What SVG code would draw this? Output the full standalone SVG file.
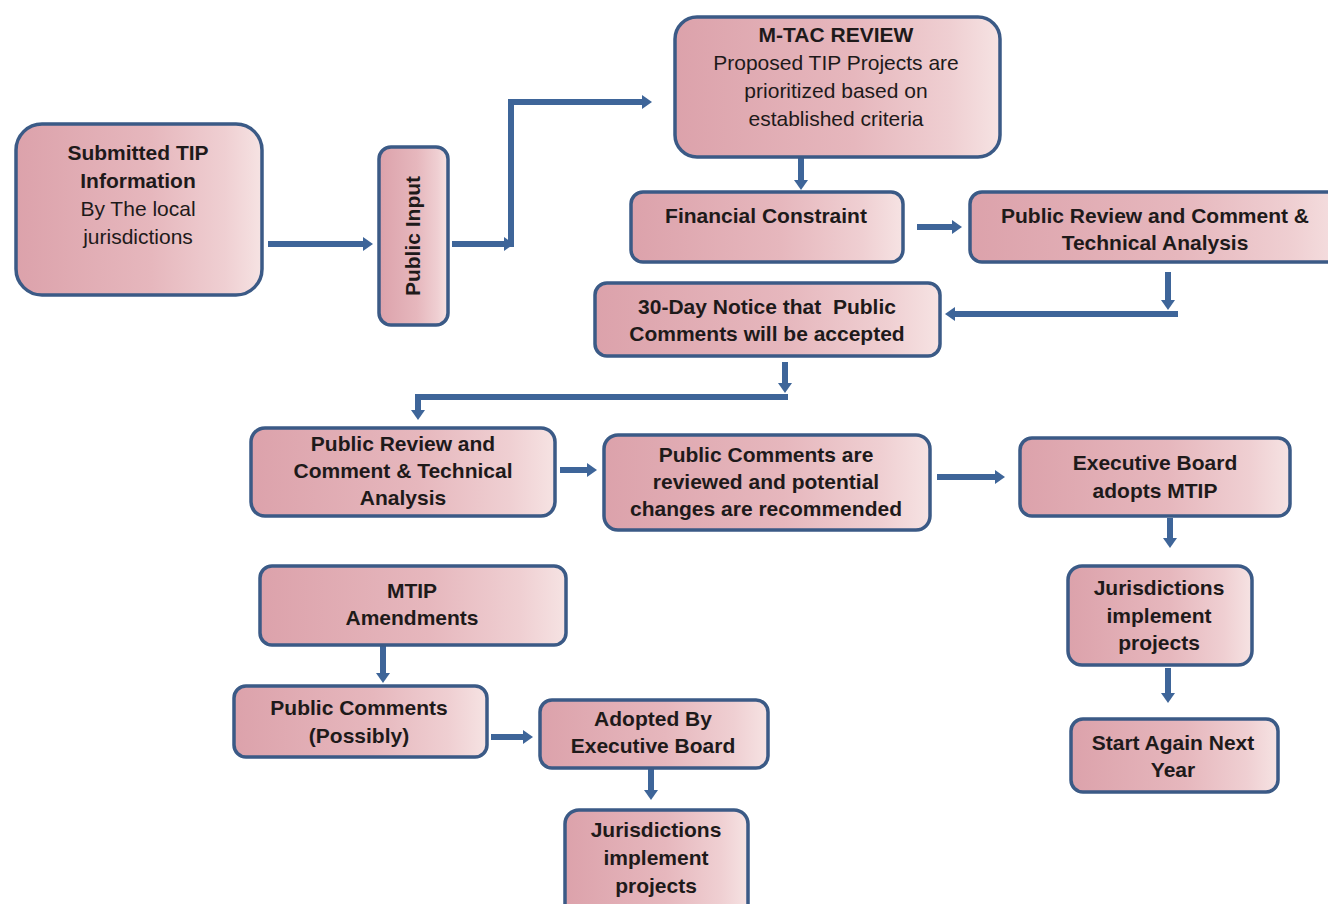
<svg xmlns="http://www.w3.org/2000/svg" width="1328" height="904" viewBox="0 0 1328 904">
<defs>
<linearGradient id="pink" x1="0" y1="0" x2="1" y2="0">
<stop offset="0" stop-color="#dca2ab"/>
<stop offset="0.55" stop-color="#e6b7bd"/>
<stop offset="0.85" stop-color="#efcfd2"/>
<stop offset="1" stop-color="#f6e3e3"/>
</linearGradient>
<marker id="ah" markerUnits="userSpaceOnUse" markerWidth="12" markerHeight="14" refX="2" refY="7" orient="auto">
<path d="M0,0 L10,7 L0,14 z" fill="#3e6599"/>
</marker>
<style>
.box{fill:url(#pink);stroke:#3b5a86;stroke-width:3.5}
.t{font-family:"Liberation Sans",Arial,sans-serif;font-size:21px;fill:#1e1a1a;text-anchor:middle}
.b{font-weight:bold}
.c{fill:none;stroke:#3e6599;stroke-width:6}
.a{marker-end:url(#ah)}
</style>
</defs>
<rect width="1328" height="904" fill="#ffffff"/>

<g id="connectors">
<path class="c a" d="M268,244 H365"/>
<path class="c a" d="M452,244 H506"/>
<path class="c" d="M511,247 V99"/>
<path class="c a" d="M508,102 H644"/>
<path class="c a" d="M801,157 V182"/>
<path class="c a" d="M917,227 H954"/>
<path class="c a" d="M1168,272 V302"/>
<path class="c a" d="M1178,314 H953"/>
<path class="c a" d="M785,362 V385"/>
<path class="c" d="M788,397 H415"/>
<path class="c a" d="M418,394 V412"/>
<path class="c a" d="M560,470 H589"/>
<path class="c a" d="M937,477 H997"/>
<path class="c a" d="M1170,518 V540"/>
<path class="c a" d="M1168,668 V695"/>
<path class="c a" d="M383,645 V675"/>
<path class="c a" d="M491,737 H525"/>
<path class="c a" d="M651,768 V792"/>
</g>

<g id="n1">
<rect class="box" x="16" y="124" width="246" height="171" rx="26"/>
<text class="t b" x="138" y="160">Submitted TIP</text>
<text class="t b" x="138" y="188">Information</text>
<text class="t" x="138" y="216">By The local</text>
<text class="t" x="138" y="244">jurisdictions</text>
</g>

<g id="n2">
<rect class="box" x="379" y="147" width="69" height="178" rx="12"/>
<text class="t b" transform="translate(420,236) rotate(-90)">Public Input</text>
</g>

<g id="n3">
<rect class="box" x="675" y="17" width="325" height="140" rx="22"/>
<text class="t b" x="836" y="42">M-TAC REVIEW</text>
<text class="t" x="836" y="70">Proposed TIP Projects are</text>
<text class="t" x="836" y="98">prioritized based on</text>
<text class="t" x="836" y="126">established criteria</text>
</g>

<g id="n4">
<rect class="box" x="631" y="192" width="272" height="70" rx="12"/>
<text class="t b" x="766" y="223">Financial Constraint</text>
</g>

<g id="n5">
<rect class="box" x="970" y="192" width="380" height="70" rx="12"/>
<text class="t b" x="1155" y="223">Public Review and Comment &amp;</text>
<text class="t b" x="1155" y="250">Technical Analysis</text>
</g>

<g id="n6">
<rect class="box" x="595" y="283" width="345" height="73" rx="12"/>
<text class="t b" x="767" y="314" xml:space="preserve">30-Day Notice that  Public</text>
<text class="t b" x="767" y="341">Comments will be accepted</text>
</g>

<g id="n7">
<rect class="box" x="251" y="428" width="304" height="88" rx="14"/>
<text class="t b" x="403" y="451">Public Review and</text>
<text class="t b" x="403" y="478">Comment &amp; Technical</text>
<text class="t b" x="403" y="505">Analysis</text>
</g>

<g id="n8">
<rect class="box" x="604" y="435" width="326" height="95" rx="14"/>
<text class="t b" x="766" y="462">Public Comments are</text>
<text class="t b" x="766" y="489">reviewed and potential</text>
<text class="t b" x="766" y="516">changes are recommended</text>
</g>

<g id="n9">
<rect class="box" x="1020" y="438" width="270" height="78" rx="12"/>
<text class="t b" x="1155" y="470">Executive Board</text>
<text class="t b" x="1155" y="498">adopts MTIP</text>
</g>

<g id="n10">
<rect class="box" x="1068" y="566" width="184" height="99" rx="14"/>
<text class="t b" x="1159" y="595">Jurisdictions</text>
<text class="t b" x="1159" y="623">implement</text>
<text class="t b" x="1159" y="650">projects</text>
</g>

<g id="n11">
<rect class="box" x="1071" y="719" width="207" height="73" rx="12"/>
<text class="t b" x="1173" y="750">Start Again Next</text>
<text class="t b" x="1173" y="777">Year</text>
</g>

<g id="n12">
<rect class="box" x="260" y="566" width="306" height="79" rx="12"/>
<text class="t b" x="412" y="598">MTIP</text>
<text class="t b" x="412" y="625">Amendments</text>
</g>

<g id="n13">
<rect class="box" x="234" y="686" width="253" height="71" rx="12"/>
<text class="t b" x="359" y="715">Public Comments</text>
<text class="t b" x="359" y="743">(Possibly)</text>
</g>

<g id="n14">
<rect class="box" x="540" y="700" width="228" height="68" rx="12"/>
<text class="t b" x="653" y="726">Adopted By</text>
<text class="t b" x="653" y="753">Executive Board</text>
</g>

<g id="n15">
<rect class="box" x="565" y="810" width="183" height="110" rx="14"/>
<text class="t b" x="656" y="837">Jurisdictions</text>
<text class="t b" x="656" y="865">implement</text>
<text class="t b" x="656" y="893">projects</text>
</g>
</svg>
